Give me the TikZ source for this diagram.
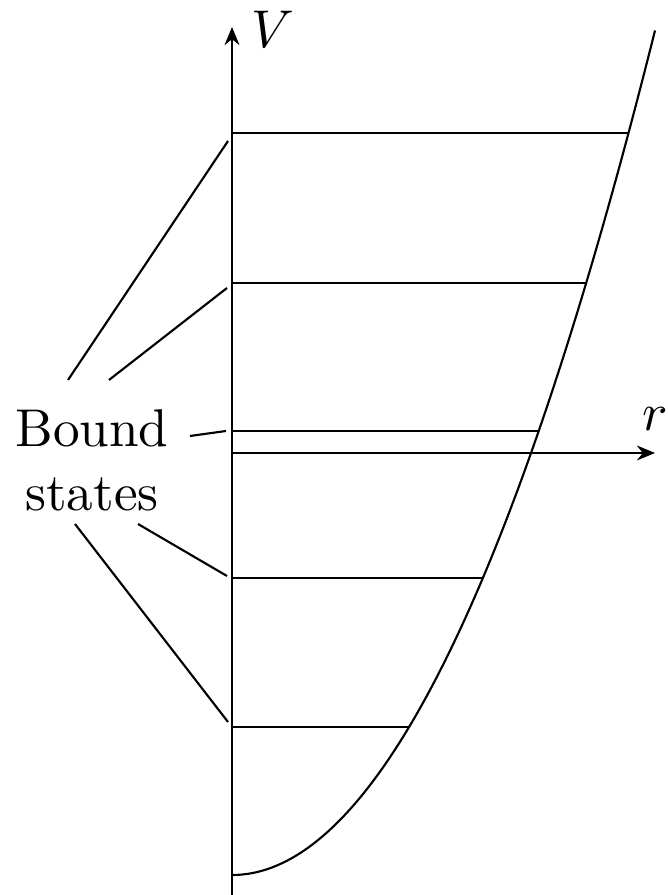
\documentclass[tikz,border=0pt]{standalone}
\usepackage{amsmath}
\usetikzlibrary{positioning,calc,arrows.meta}

\begin{document}
\begin{tikzpicture}[
  x=0.188pt,y=-0.188pt,
  axis/.style={-{Stealth[length=3.4pt,width=2.8pt]}},
  level/.style={black},
  lead/.style={black},
]
\useasboundingbox (0,0) rectangle (667,895);
% axes
\coordinate (o) at (232,453);
\coordinate (vbot) at (232,895);
\coordinate (vtop) at (232,27);
\coordinate (rend) at (655,453);
\draw[axis] (vbot)--(vtop);
\draw[axis] (o)--(rend);
\node (vlab) at (273,29) {$V$};
\node (rlab) at (655,419) {$r$};
% potential
\draw plot[domain=0:4.23,samples=80,smooth] ({232+100*\x},{875-47.2*\x*\x});
% levels
\foreach \y [count=\i] in {133,283,431,578,727}{
  \coordinate (a\i) at (232,\y);
  \coordinate (b\i) at ({232+100*sqrt((875-\y)/47.2)},\y);
  \draw[level] (a\i)--(b\i);
}
% label and leaders
\node[align=center] (bs) at (92,460) {Bound\\states};
\coordinate (l1) at (68,380);  \coordinate (e1) at (228,141);
\coordinate (l2) at (109,380); \coordinate (e2) at (227,288);
\coordinate (l3) at (190,436); \coordinate (e3) at (226,431);
\coordinate (l4) at (138,524); \coordinate (e4) at (227,576);
\coordinate (l5) at (75,524);  \coordinate (e5) at (228,722);
\foreach \i in {1,...,5} \draw[lead] (l\i)--(e\i);
\end{tikzpicture}
\end{document}
